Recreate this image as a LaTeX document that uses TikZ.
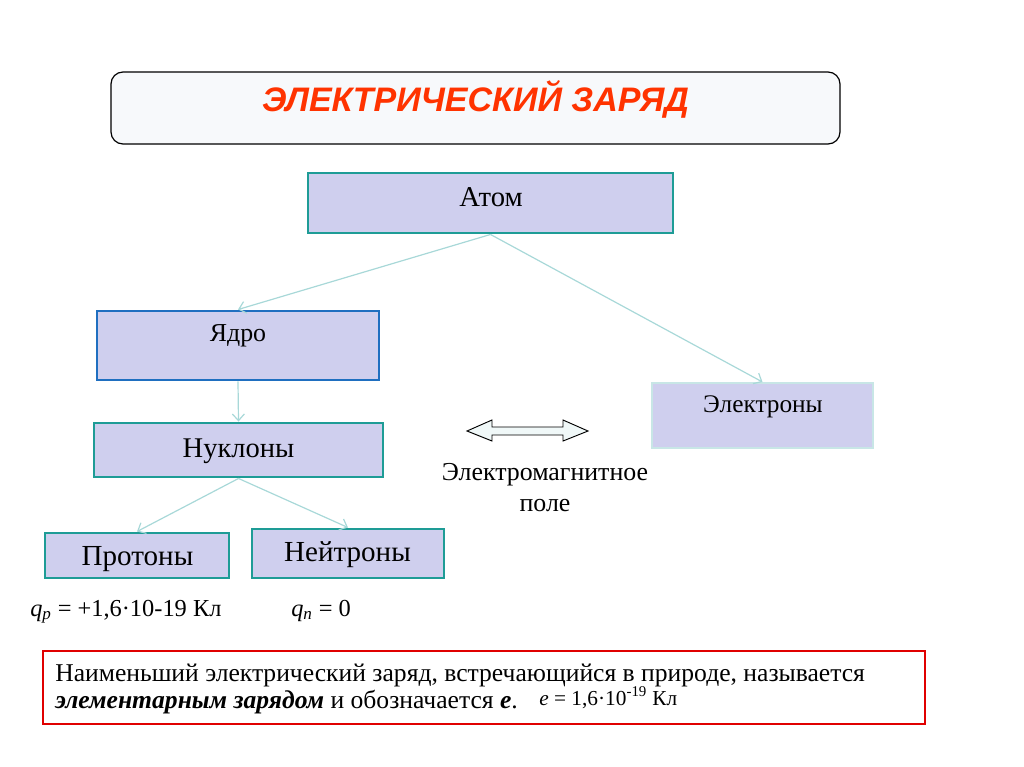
\documentclass[tikz,border=0pt]{standalone}
\usepackage{fontspec}
\setmainfont{Liberation Serif}
\newfontfamily\titlefont{Liberation Sans}
\usetikzlibrary{arrows.meta}
\definecolor{lav}{HTML}{CFCFEE}
\definecolor{tealb}{HTML}{1E9C96}
\definecolor{blueb}{HTML}{1F6FC0}
\definecolor{connc}{HTML}{A8D8D8}
\definecolor{titlered}{HTML}{FF3300}
\definecolor{elbord}{HTML}{C8E6E6}
\definecolor{titlefill}{HTML}{F7F9FB}
\definecolor{arrfill}{HTML}{F0F8F8}
\definecolor{notered}{HTML}{E00000}
\begin{document}
\begin{tikzpicture}[x=0.75pt,y=-0.75pt,
  box/.style={draw=tealb, line width=2.2pt, fill=lav, inner sep=0pt},
  lbl/.style={inner sep=0pt, anchor=base},
  connector/.style={draw=connc, line width=0.9pt, -{Straight Barb[length=5pt,width=9pt]}},
]
\useasboundingbox (0,0) rectangle (1024,767);
% title
\node[draw=black, line width=0.9pt, fill=titlefill, rounded corners=9pt,
      minimum width={729*0.75pt}, minimum height={72*0.75pt}] (title) at (475.5,108) {};
\node[lbl, text=titlered, font=\titlefont\bfseries\itshape\fontsize{25.5pt}{30pt}\selectfont] (titletext) at (475.5,112) {ЭЛЕКТРИЧЕСКИЙ ЗАРЯД};
% boxes
\node[box, minimum width={365*0.75pt}, minimum height={60*0.75pt}] (atom) at (490.5,203) {};
\node[lbl, font=\fontsize{21.5pt}{24pt}\selectfont] (atomt) at (491,206) {Атом};
\node[box, draw=blueb, minimum width={282*0.75pt}, minimum height={69*0.75pt}] (yadro) at (238,345.5) {};
\node[lbl, font=\fontsize{19.4pt}{22pt}\selectfont] (yadrot) at (238,341) {Ядро};
\node[box, minimum width={289*0.75pt}, minimum height={54*0.75pt}] (nuk) at (238.5,450) {};
\node[lbl, font=\fontsize{21.4pt}{24pt}\selectfont] (nukt) at (238.5,457) {Нуклоны};
\node[box, draw=elbord, line width=1.5pt, minimum width={221*0.75pt}, minimum height={65*0.75pt}] (elec) at (762.5,415.5) {};
\node[lbl, font=\fontsize{19pt}{22pt}\selectfont] (elect) at (763,412) {Электроны};
\node[box, minimum width={184*0.75pt}, minimum height={45*0.75pt}] (prot) at (137,555.5) {};
\node[lbl, font=\fontsize{21.8pt}{24pt}\selectfont] (prott) at (137.5,565) {Протоны};
\node[box, minimum width={192*0.75pt}, minimum height={49*0.75pt}] (neut) at (348,553.5) {};
\node[lbl, font=\fontsize{21.8pt}{24pt}\selectfont] (neutt) at (347.5,561) {Нейтроны};
% connectors
\draw[connector] (atom.south) -- (yadro.north);
\draw[connector] (atom.south) -- (elec.north);
\draw[connector] (yadro.south) -- (nuk.north);
\draw[connector] (nuk.south) -- (prot.north);
\draw[connector] (nuk.south) -- (neut.north);
% double arrow
\draw[black, line width=0.7pt, fill=arrfill, line join=miter]
  (467,431) -- (492,420) -- (492,427) -- (563,427) -- (563,420) -- (588,431)
  -- (563,441) -- (563,435) -- (492,435) -- (492,441) -- cycle;
\node[lbl, font=\fontsize{19.4pt}{22pt}\selectfont] (emf1) at (545,480) {Электромагнитное};
\node[lbl, font=\fontsize{19.4pt}{22pt}\selectfont] (emf2) at (545,511) {поле};
% charges
\node[lbl, anchor=base west, font=\fontsize{18.3pt}{20pt}\selectfont] (qp) at (30,616) {\textit{q}\textsubscript{\textit{p}} = +1,6·10-19 Кл};
\node[lbl, anchor=base west, font=\fontsize{18.3pt}{20pt}\selectfont] (qn) at (291,616) {\textit{q}\textsubscript{\textit{n}} = 0};
% note
\node[draw=notered, line width=2.2pt, minimum width={882*0.75pt}, minimum height={73*0.75pt}, inner sep=0pt] (note) at (484,687.5) {};
\node[lbl, anchor=base west, font=\fontsize{19.2pt}{22pt}\selectfont] (note1) at (55,681) {Наименьший электрический заряд, встречающийся в природе, называется};
\node[lbl, anchor=base west, font=\fontsize{19.2pt}{22pt}\selectfont] (note2) at (55,708) {\textbf{\textit{элементарным зарядом}} и обозначается \textbf{\textit{е}}.};
\node[lbl, anchor=base west, font=\fontsize{16pt}{18pt}\selectfont] (note3) at (539,705) {\textit{e} = 1,6·10\textsuperscript{-19} Кл};
\end{tikzpicture}
\end{document}
